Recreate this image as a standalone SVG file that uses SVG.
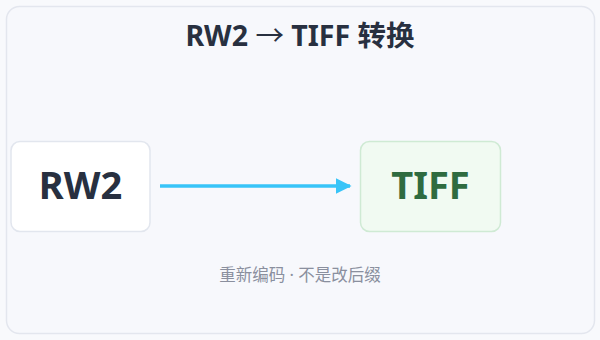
<svg xmlns="http://www.w3.org/2000/svg" width="600" height="340" viewBox="0 0 600 340">
<style>
.title{font-family:"Noto Sans","Noto Sans CJK SC",sans-serif;font-weight:700;font-size:28.5px;fill:#283040;text-anchor:middle}
.lbl{font-family:"Noto Sans","Noto Sans CJK SC",sans-serif;font-weight:700;font-size:38px;text-anchor:middle}
.sub{font-family:"Noto Sans","Noto Sans CJK SC",sans-serif;font-size:16.5px;fill:#8a8f9e;text-anchor:middle}
</style>
<defs>
<marker id="ah" viewBox="0 0 10 10" refX="9" refY="5" markerWidth="4.5" markerHeight="4.5" markerUnits="strokeWidth" orient="auto">
<path d="M0,0 L10,5 L0,10 z" fill="#38c4f8"/>
</marker>
</defs>
<rect width="600" height="340" fill="#f8f9fc"/>
<rect x="6.5" y="6.5" width="588" height="327" rx="13" fill="#f7f8fc" stroke="#e3e6ee" stroke-width="1.5"/>
<text class="title" x="300" y="46">RW2 <tspan font-weight="400">→</tspan> TIFF 转换</text>
<g id="connectors">
<line x1="160" y1="186" x2="350" y2="186" stroke="#38c4f8" stroke-width="3.5" marker-end="url(#ah)"/>
</g>
<g id="rw2">
<rect x="11" y="141.5" width="139" height="90" rx="9" fill="#ffffff" stroke="#e2e6ee" stroke-width="1.5"/>
<text class="lbl" x="80.5" y="199" fill="#283040">RW2</text>
</g>
<g id="tiff">
<rect x="360.5" y="141.5" width="140" height="90" rx="9" fill="#f1faf2" stroke="#cfead4" stroke-width="1.5"/>
<text class="lbl" x="430.5" y="199" fill="#2f6b40">TIFF</text>
</g>
<text class="sub" x="300" y="281">重新编码 · 不是改后缀</text>
</svg>
